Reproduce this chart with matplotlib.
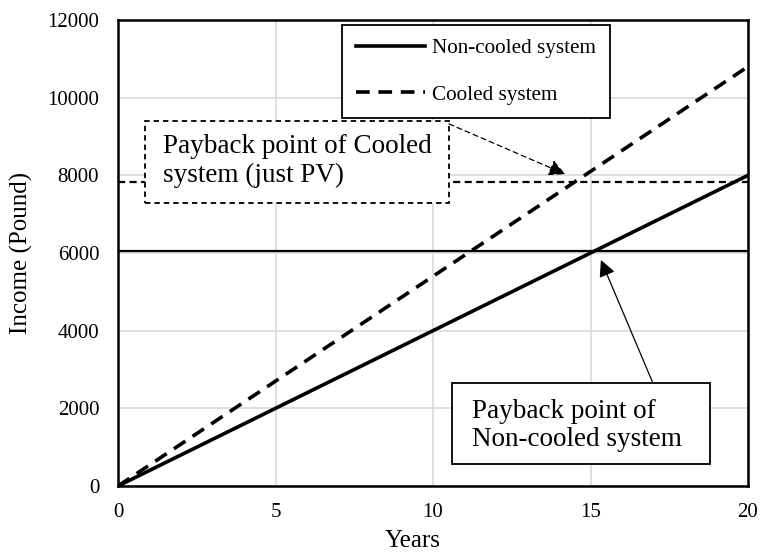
import matplotlib.pyplot as plt
from matplotlib.patches import Rectangle

# Data
years = [0, 20]
non_cooled = [0, 8000]
cooled = [0, 10800]
payback_non_cooled = 6050
payback_cooled = 7830
cooled_cross = (14.2, 8030)
non_cooled_cross = (15.33, 5820)

plt.rcParams['font.family'] = ['Liberation Serif', 'DejaVu Serif']

fig = plt.figure(figsize=(7.61, 5.56), dpi=100)
ax = fig.add_axes([118 / 761, 1 - 486 / 556, 630 / 761, 466 / 556])

ax.grid(True, color='#d9d9d9', linewidth=1.2, zorder=0)

ax.axhline(payback_non_cooled, color='black', linewidth=1.6, zorder=2)
ax.axhline(payback_cooled, color='black', linewidth=1.6, linestyle=(0, (3.2, 2)), zorder=2)

ax.plot(years, non_cooled, color='black', linewidth=2.6, label='Non-cooled system', zorder=3)
ax.plot(years, cooled, color='black', linewidth=2.6, linestyle=(0, (3.8, 2.4)),
        label='Cooled system', zorder=3)

ax.set_xlim(0, 20)
ax.set_ylim(0, 12000)
ax.set_xticks([0, 5, 10, 15, 20])
ax.set_yticks(range(0, 12001, 2000))
ax.tick_params(length=0, labelsize=15)
ax.tick_params(axis='y', pad=13.5)
ax.tick_params(axis='x', pad=12.5)
for s in ax.spines.values():
    s.set_linewidth(1.8)

ax.set_xlabel('Years', fontsize=18)
ax.set_ylabel('Income (Pound)', fontsize=18)
ax.xaxis.set_label_coords(0.468, -0.094)
ax.yaxis.set_label_coords(-0.135, 0.5)

leg = ax.legend(loc='upper left', bbox_to_anchor=((342 - 118) / 630, 1 - 5 / 466),
                fontsize=15.2, frameon=True, fancybox=False, edgecolor='black',
                framealpha=1, handlelength=3.3, handletextpad=0.33, labelspacing=1.25,
                borderpad=0.65, borderaxespad=0)
leg.get_frame().set_linewidth(1.3)

# Cooled payback annotation (dashed box)
ax.add_patch(Rectangle((0.0429, 0.6073), 0.4825, 0.176, transform=ax.transAxes,
                       fc='white', ec='black', lw=1.3, linestyle=(0, (3, 2.2)), zorder=5))
ax.text(0.0714, 0.6964, 'Payback point of Cooled\nsystem (just PV)', transform=ax.transAxes,
        fontsize=19.5, ha='left', va='center', zorder=6)
ax.annotate('', xy=cooled_cross, xytext=(0.5254, 0.777), textcoords='axes fraction',
            zorder=6,
            arrowprops=dict(arrowstyle='-|>', color='black', lw=0.9,
                            linestyle=(0, (4, 3)), mutation_scale=25,
                            shrinkA=0, shrinkB=0))

# Non-cooled payback annotation (solid box)
ax.add_patch(Rectangle((0.530, 0.0472), 0.4097, 0.1738, transform=ax.transAxes,
                       fc='white', ec='black', lw=1.3, zorder=5))
ax.text(0.5619, 0.1298, 'Payback point of\nNon-cooled system', transform=ax.transAxes,
        fontsize=19.5, ha='left', va='center', zorder=6)
ax.annotate('', xy=non_cooled_cross, xytext=(0.849, 0.221), textcoords='axes fraction',
            zorder=6,
            arrowprops=dict(arrowstyle='-|>', color='black', lw=0.9,
                            mutation_scale=25, shrinkA=0, shrinkB=0))

fig.savefig('out.png', dpi=100)
